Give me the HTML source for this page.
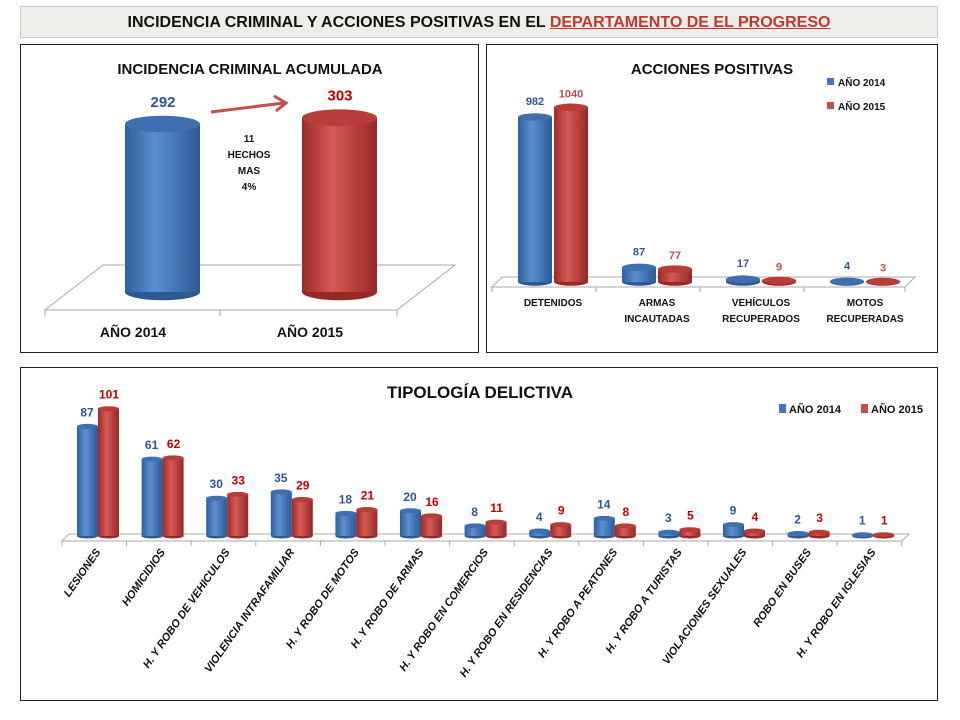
<!DOCTYPE html>
<html><head><meta charset="utf-8">
<style>
body{margin:0;width:960px;height:720px;background:#fff;font-family:"Liberation Sans",sans-serif;overflow:hidden;position:relative}
.box{position:absolute;border:1.5px solid #222;box-sizing:border-box}
svg text{font-family:"Liberation Sans",sans-serif;font-weight:bold}
</style></head><body>
<div style="position:absolute;left:20px;top:6px;width:918px;height:32px;background:#ededea;border:1px solid #ccc;box-sizing:border-box;text-align:center;font-weight:bold;font-size:16px;line-height:32px;color:#111">INCIDENCIA CRIMINAL Y ACCIONES POSITIVAS EN EL <span style="color:#c0392b;text-decoration:underline">DEPARTAMENTO DE EL PROGRESO</span></div>
<div class="box" style="left:20px;top:44px;width:459px;height:309px"></div>
<div class="box" style="left:486px;top:44px;width:452px;height:309px"></div>
<div class="box" style="left:20px;top:367px;width:918px;height:334px"></div>
<svg id="s" width="960" height="720" style="position:absolute;left:0;top:0">
<defs>
<linearGradient id="gb" x1="0" x2="1"><stop offset="0" stop-color="#2f5f9e"/><stop offset="0.4" stop-color="#5b8fd1"/><stop offset="1" stop-color="#2d5a94"/></linearGradient>
<linearGradient id="gr" x1="0" x2="1"><stop offset="0" stop-color="#9c2a28"/><stop offset="0.4" stop-color="#d45a56"/><stop offset="1" stop-color="#972826"/></linearGradient>
</defs>
</svg>
<script>
const incYears=['AÑO 2014','AÑO 2015'];
const incValues=[292,303];
const accCats=[['DETENIDOS'],['ARMAS','INCAUTADAS'],['VEHÍCULOS','RECUPERADOS'],['MOTOS','RECUPERADAS']];
const acc2014=[982,87,17,4];
const acc2015=[1040,77,9,3];
const tipCats=['LESIONES','HOMICIDIOS','H. Y ROBO DE VEHICULOS','VIOLENCIA INTRAFAMILIAR','H. Y ROBO DE MOTOS','H. Y ROBO DE ARMAS','H. Y ROBO EN COMERCIOS','H. Y ROBO EN RESIDENCIAS','H. Y ROBO A PEATONES','H. Y ROBO A TURISTAS','VIOLACIONES SEXUALES','ROBO EN BUSES','H. Y ROBO EN IGLESIAS'];
const tip2014=[87,61,30,35,18,20,8,4,14,3,9,2,1];
const tip2015=[101,62,33,29,21,16,11,9,8,5,4,3,1];
const S=document.getElementById('s'),NS='http://www.w3.org/2000/svg';
function el(t,a,p){const e=document.createElementNS(NS,t);for(const k in a)e.setAttribute(k,a[k]);(p||S).appendChild(e);return e;}
function txt(x,y,s,size,fill,anchor,extra){const t=el('text',Object.assign({x:x,y:y,'font-size':size,fill:fill,'text-anchor':anchor||'middle'},extra||{}));t.textContent=s;return t;}
function cyl(x,w,yTop,yBot,blue,name){
  const g=el('g',{});
  
  
  const ry=Math.max(2.5,w*0.11);
  const h=Math.max(0,yBot-yTop);
  el('ellipse',{cx:x+w/2,cy:yBot,rx:w/2,ry:ry,fill:blue?'#2d5a94':'#972826'},g);
  el('rect',{x:x,y:yTop,width:w,height:h,fill:blue?'url(#gb)':'url(#gr)'},g);
  el('ellipse',{cx:x+w/2,cy:yTop,rx:w/2,ry:ry,fill:blue?'#3f6fae':'#b83c38'},g);
}
function floor(x1,x2,yFront,dx,dy,name){
  const p=el('polygon',{points:`${x1},${yFront} ${x2},${yFront} ${x2+dx},${yFront-dy} ${x1+dx},${yFront-dy}`,fill:'#fff',stroke:'#aaa','stroke-width':1});
  
  
}
// Panel 1
txt(250,74,'INCIDENCIA CRIMINAL ACUMULADA',15,'#111');
floor(45,397,310,58,45,'floor-incidencia');
el('line',{x1:45,y1:310,x2:45,y2:316,stroke:'#aaa'});el('line',{x1:220,y1:310,x2:220,y2:316,stroke:'#aaa'});el('line',{x1:397,y1:310,x2:397,y2:316,stroke:'#aaa'});
const incX=[125,302];
const incY=v=>292-(v-0)*0.5753;
incValues.forEach((v,i)=>{
  cyl(incX[i],75,incY(v),292,i==0,'cylinder-'+(2014+i));
  const t=txt(incX[i]+38,incY(v)-17,String(v),15,i==0?'#2f5597':'#c00000');
  
  const l=txt(incX[i]+8,337,incYears[i],14,'#111');
  
});
const ar=el('g',{});
el('line',{x1:211,y1:112,x2:284,y2:103,stroke:'#c0504d','stroke-width':3},ar);
el('polyline',{points:'274,96 286,103 276,111',fill:'none',stroke:'#c0504d','stroke-width':3},ar);
['11','HECHOS','MAS','4%'].forEach((s,i)=>txt(249,142+i*16,s,10,'#111'));
// Panel 2
txt(712,74,'ACCIONES POSITIVAS',15,'#111');
floor(492,905,287,10,10,'floor-acciones');
[492,596,700,804,905].forEach(x=>el('line',{x1:x,y1:287,x2:x,y2:292,stroke:'#aaa'}));
const aY=v=>282-v*0.168;
acc2014.forEach((v,i)=>{
  const cx=553+i*104;
  cyl(cx-35,34,aY(v),282,true,'bar-2014-'+i);
  cyl(cx+1,34,aY(acc2015[i]),282,false,'bar-2015-'+i);
  txt(cx-18,aY(v)-12,String(v),11,'#2f5597');
  txt(cx+18,aY(acc2015[i])-10,String(acc2015[i]),11,'#c0504d');
  accCats[i].forEach((s,j)=>txt(cx,306+j*16,s,10,'#111'));
});
[['#4472c4','AÑO 2014',86],['#c0504d','AÑO 2015',110]].forEach(([c,s,y],i)=>{
  const r=el('rect',{x:827,y:y-8,width:7,height:7,fill:c});
  txt(838,y,s,10,'#111','start');
});
// Panel 3
txt(480,398,'TIPOLOGÍA DELICTIVA',17,'#111');
floor(62,902,541,7,7,'floor-tipologia');
for(let i=0;i<=13;i++){const x=62+i*64.6;el('line',{x1:x,y1:541,x2:x,y2:546,stroke:'#aaa'});}
const tY=v=>536-v*1.26;
tip2014.forEach((v,i)=>{
  const cx=97+i*64.6;
  cyl(cx-20,21,tY(v),536,true,'bar-tip-2014-'+i);
  cyl(cx+1,21,tY(tip2015[i]),536,false,'bar-tip-2015-'+i);
  txt(cx-10,tY(v)-10,String(v),12,'#2f5597',null,{'font-weight':'normal'});
  txt(cx+12,tY(tip2015[i])-10,String(tip2015[i]),12,'#c00000');
  const t=txt(0,0,tipCats[i],11,'#111','end',{transform:`translate(${cx+4},${552}) rotate(-55)`,'font-style':'italic'});
  
});
[['#4472c4','AÑO 2014',779],['#c0504d','AÑO 2015',861]].forEach(([c,s,x],i)=>{
  const r=el('rect',{x:x,y:404,width:7,height:9,fill:c});
  txt(x+10,413,s,11,'#111','start',{'font-weight':'normal'});
});
</script>
</body></html>
